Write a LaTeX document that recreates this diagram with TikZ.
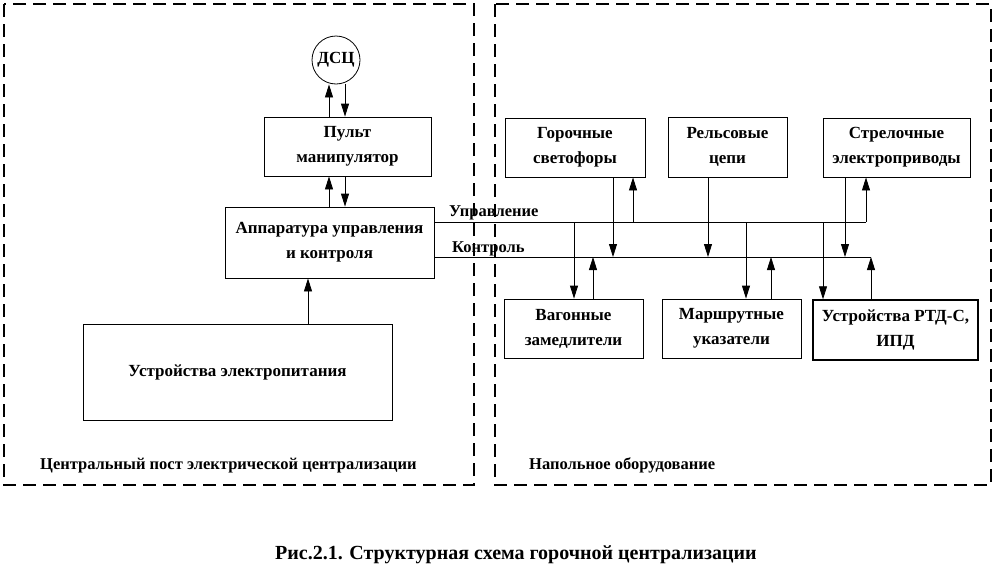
\documentclass[tikz,border=0pt]{standalone}
\usepackage{fontspec}
\setmainfont{Liberation Serif}
\usetikzlibrary{arrows.meta}
\begin{document}
\begin{tikzpicture}[x=1pt,y=-1pt,
  txt/.style={font=\bfseries\fontsize{17}{25}\selectfont},
  blk/.style={draw,line width=0.8pt,inner sep=0pt,align=center,txt},
  thickblk/.style={blk,line width=1.4pt},
  zone/.style={draw,line width=1.6pt,dash pattern=on 13pt off 7pt},
  bus/.style={line width=0.8pt},
  arr/.style={line width=0.8pt,-{Triangle[length=13pt,width=8pt]}},
  lbl/.style={inner sep=0pt,font=\bfseries\fontsize{16.5}{20}\selectfont}]
\useasboundingbox (0,0) rectangle (996,568);
% zones
\draw[zone] (4,4) rectangle (474,485);
\draw[zone] (495,4) rectangle (991,485);
% left part
\node[blk,circle,minimum size=48pt] (dsc) at (336,60) {ДСЦ};
\node[blk,minimum width=167pt,minimum height=59pt] (pult) at (347.5,146.5) {Пульт\\манипулятор};
\node[blk,minimum width=209pt,minimum height=71pt] (app) at (329.5,242.5) {Аппаратура управления\\и контроля};
\node[blk,minimum width=309pt,minimum height=96pt] (pit) at (237.5,372) {Устройства электропитания};
% right part
\node[blk,minimum width=140pt,minimum height=59pt] (svet) at (575,147.5) {Горочные\\светофоры};
\node[blk,minimum width=119pt,minimum height=60pt] (rc) at (727.5,147) {Рельсовые\\цепи};
\node[blk,minimum width=147pt,minimum height=59pt] (str) at (896.5,147.5) {Стрелочные\\электроприводы};
\node[blk,minimum width=139pt,minimum height=59pt] (vag) at (573.5,328.5) {Вагонные\\замедлители};
\node[blk,minimum width=139pt,minimum height=59pt] (mar) at (731.5,328.5) {Маршрутные\\указатели};
\node[thickblk,minimum width=165pt,minimum height=60pt] (rtd) at (895.5,330) {Устройства РТД-С,\\ИПД};
% bus coordinates
\coordinate (uS) at (434,222);
\coordinate (u1) at (574,222);
\coordinate (u2) at (633,222);
\coordinate (u3) at (746,222);
\coordinate (u4) at (823,222);
\coordinate (uE) at (866,222);
\coordinate (kS) at (434,257);
\coordinate (k1) at (593,257);
\coordinate (k2) at (613,257);
\coordinate (k3) at (708,257);
\coordinate (k4) at (771,257);
\coordinate (k5) at (845,257);
\coordinate (kE) at (871,257);
\coordinate (a1) at (329,0);
\coordinate (a2) at (345,0);
\coordinate (a3) at (308,0);
% left connectors
\draw[arr] (a1 |- pult.north) -- (a1 |- dsc.south);
\draw[arr] (a2 |- dsc.south) -- (a2 |- pult.north);
\draw[arr] (a1 |- app.north) -- (a1 |- pult.south);
\draw[arr] (a2 |- pult.south) -- (a2 |- app.north);
\draw[arr] (a3 |- pit.north) -- (a3 |- app.south);
% buses
\draw[bus] (uS -| app.east) -- (uE);
\draw[arr] (uE) -- (uE |- str.south);
\draw[bus] (kS -| app.east) -- (kE);
\draw[arr] (kE |- rtd.north) -- (kE);
% taps
\draw[arr] (u1) -- (u1 |- vag.north);
\draw[arr] (u2) -- (u2 |- svet.south);
\draw[arr] (u3) -- (u3 |- mar.north);
\draw[arr] (u4) -- (u4 |- rtd.north);
\draw[arr] (k1 |- vag.north) -- (k1);
\draw[arr] (k2 |- svet.south) -- (k2);
\draw[arr] (k3 |- rc.south) -- (k3);
\draw[arr] (k4 |- mar.north) -- (k4);
\draw[arr] (k5 |- str.south) -- (k5);
% labels
\node[lbl,anchor=base west] (lu) at (449,216) {Управление};
\node[lbl,anchor=base west] (lk) at (452,252) {Контроль};
\node[lbl,anchor=base west] (lz1) at (40,469) {Центральный пост электрической централизации};
\node[lbl,anchor=base west] (lz2) at (529,469) {Напольное оборудование};
\node[inner sep=0pt,anchor=base,font=\bfseries\fontsize{20}{22}\selectfont] (cap) at (516,559) {Рис.2.1. Структурная схема горочной централизации};
\end{tikzpicture}
\end{document}
